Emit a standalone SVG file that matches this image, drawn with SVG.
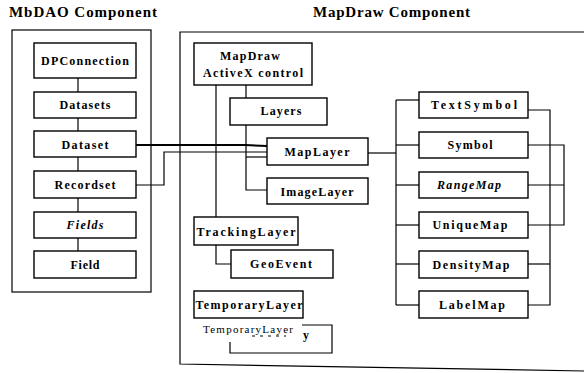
<svg xmlns="http://www.w3.org/2000/svg" width="584" height="373" viewBox="0 0 584 373">
  <style>
    .frame { fill: none; stroke: #000; stroke-width: 1.2; }
    .box { fill: #fff; stroke: #000; stroke-width: 1.4; }
    .wire { fill: none; stroke: #000; stroke-width: 1.2; }
    .wire-heavy { fill: none; stroke: #000; stroke-width: 2; }
    text { font-family: 'Liberation Serif', 'DejaVu Serif', serif; fill: #000; }
    .title { font-weight: bold; font-size: 15px; }
    .label { font-weight: bold; font-size: 12px; text-anchor: middle; }
    .italic { font-style: italic; }
    .plain { font-size: 11px; }
  </style>

  <rect width="584" height="373" fill="#fff"/>

  <!-- component titles -->
  <text class="title" x="9" y="17" textLength="148" lengthAdjust="spacing">MbDAO Component</text>
  <text class="title" x="313" y="17" textLength="157" lengthAdjust="spacing">MapDraw Component</text>

  <!-- component frames -->
  <g id="mbdao-frame">
    <rect class="frame" x="12" y="30" width="139" height="262"/>
  </g>
  <g id="mapdraw-frame">
    <polyline class="frame" points="584,32 180,32 180,364 584,371"/>
  </g>

  <!-- connectors -->
  <g id="connectors">
    <!-- MbDAO chain -->
    <line class="wire" x1="78" y1="78" x2="78" y2="251"/>
    <!-- Dataset / Recordset to MapLayer -->
    <polyline class="wire-heavy" points="136,145 245,145 267,146"/>
    <polyline class="wire" points="136,185 164,185 164,152 267,152"/>
    <!-- ActiveX control to TrackingLayer and GeoEvent -->
    <polyline class="wire" points="216,85 216,264 231,264"/>
    <!-- ActiveX control to Layers, MapLayer, ImageLayer -->
    <polyline class="wire" points="246,85 246,190 267,190"/>
    <line class="wire" x1="246" y1="157" x2="267" y2="157"/>
    <!-- MapLayer to renderers -->
    <line class="wire" x1="368" y1="153" x2="396" y2="153"/>
    <line class="wire" x1="396" y1="100" x2="396" y2="305"/>
    <line class="wire" x1="396" y1="100" x2="419" y2="100"/>
    <line class="wire" x1="396" y1="145" x2="419" y2="145"/>
    <line class="wire" x1="396" y1="185" x2="419" y2="185"/>
    <line class="wire" x1="396" y1="225" x2="419" y2="225"/>
    <line class="wire" x1="396" y1="264" x2="419" y2="264"/>
    <line class="wire" x1="396" y1="305" x2="419" y2="305"/>
    <!-- right-hand buses -->
    <polyline class="wire" points="528,110 550,110 550,305 528,305"/>
    <line class="wire" x1="528" y1="264" x2="550" y2="264"/>
    <polyline class="wire" points="528,145 564,145 564,225 528,225"/>
    <line class="wire" x1="528" y1="185" x2="564" y2="185"/>
  </g>

  <!-- MbDAO objects -->
  <g id="dpconnection">
    <rect class="box" x="34" y="43" width="102" height="35"/>
    <text class="label" x="85" y="65" textLength="88" lengthAdjust="spacing">DPConnection</text>
  </g>
  <g id="datasets">
    <rect class="box" x="34" y="92" width="102" height="26"/>
    <text class="label" x="85" y="109" textLength="51" lengthAdjust="spacing">Datasets</text>
  </g>
  <g id="dataset">
    <rect class="box" x="34" y="131" width="102" height="26"/>
    <text class="label" x="85" y="149" textLength="47" lengthAdjust="spacing">Dataset</text>
  </g>
  <g id="recordset">
    <rect class="box" x="34" y="171" width="102" height="27"/>
    <text class="label" x="85" y="189" textLength="61" lengthAdjust="spacing">Recordset</text>
  </g>
  <g id="fields">
    <rect class="box" x="34" y="212" width="102" height="26"/>
    <text class="label italic" x="85" y="229" textLength="37" lengthAdjust="spacing">Fields</text>
  </g>
  <g id="field">
    <rect class="box" x="34" y="251" width="102" height="27"/>
    <text class="label" x="85" y="269" textLength="29" lengthAdjust="spacing">Field</text>
  </g>

  <!-- MapDraw objects -->
  <g id="activex-control">
    <rect class="box" x="194" y="43" width="118" height="42"/>
    <text class="label" x="250" y="60" textLength="60" lengthAdjust="spacing">MapDraw</text>
    <text class="label" x="253" y="77" textLength="100" lengthAdjust="spacing">ActiveX control</text>
  </g>
  <g id="layers">
    <rect class="box" x="230" y="98" width="97" height="27"/>
    <text class="label" x="281" y="115" textLength="41" lengthAdjust="spacing">Layers</text>
  </g>
  <g id="maplayer">
    <rect class="box" x="267" y="138" width="101" height="27"/>
    <text class="label" x="317" y="156" textLength="65" lengthAdjust="spacing">MapLayer</text>
  </g>
  <g id="imagelayer">
    <rect class="box" x="267" y="178" width="101" height="26"/>
    <text class="label" x="317" y="196" textLength="73" lengthAdjust="spacing">ImageLayer</text>
  </g>
  <g id="trackinglayer">
    <rect class="box" x="194" y="217" width="104" height="28"/>
    <text class="label" x="246" y="236" textLength="99" lengthAdjust="spacing">TrackingLayer</text>
  </g>
  <g id="geoevent">
    <rect class="box" x="231" y="250" width="102" height="28"/>
    <text class="label" x="281" y="268" textLength="62" lengthAdjust="spacing">GeoEvent</text>
  </g>
  <g id="temporarylayer">
    <rect class="box" x="194" y="291" width="109" height="27"/>
    <text class="label" x="249" y="309" textLength="107" lengthAdjust="spacing">TemporaryLayer</text>
  </g>
  <g id="temporarylayer-overlay">
    <path class="frame" d="M302,325 H332 V353 H230 V342" stroke-width="1.4"/>
    <text class="plain" x="203" y="333" textLength="90" lengthAdjust="spacing">TemporaryLayer</text>
    <line x1="252" y1="336" x2="286" y2="336" stroke="#000" stroke-width="1" stroke-dasharray="3,5"/>
    <text class="label" x="306" y="339">y</text>
  </g>

  <!-- renderer objects -->
  <g id="textsymbol">
    <rect class="box" x="419" y="92" width="109" height="26"/>
    <text class="label" x="474" y="109" textLength="86" lengthAdjust="spacing">TextSymbol</text>
  </g>
  <g id="symbol">
    <rect class="box" x="419" y="132" width="109" height="26"/>
    <text class="label" x="470" y="149" textLength="45" lengthAdjust="spacing">Symbol</text>
  </g>
  <g id="rangemap">
    <rect class="box" x="419" y="172" width="109" height="26"/>
    <text class="label italic" x="469" y="189" textLength="64" lengthAdjust="spacing">RangeMap</text>
  </g>
  <g id="uniquemap">
    <rect class="box" x="419" y="212" width="109" height="26"/>
    <text class="label" x="470" y="229" textLength="75" lengthAdjust="spacing">UniqueMap</text>
  </g>
  <g id="densitymap">
    <rect class="box" x="419" y="251" width="109" height="27"/>
    <text class="label" x="471" y="269" textLength="77" lengthAdjust="spacing">DensityMap</text>
  </g>
  <g id="labelmap">
    <rect class="box" x="419" y="291" width="109" height="27"/>
    <text class="label" x="472" y="309" textLength="66" lengthAdjust="spacing">LabelMap</text>
  </g>
</svg>
